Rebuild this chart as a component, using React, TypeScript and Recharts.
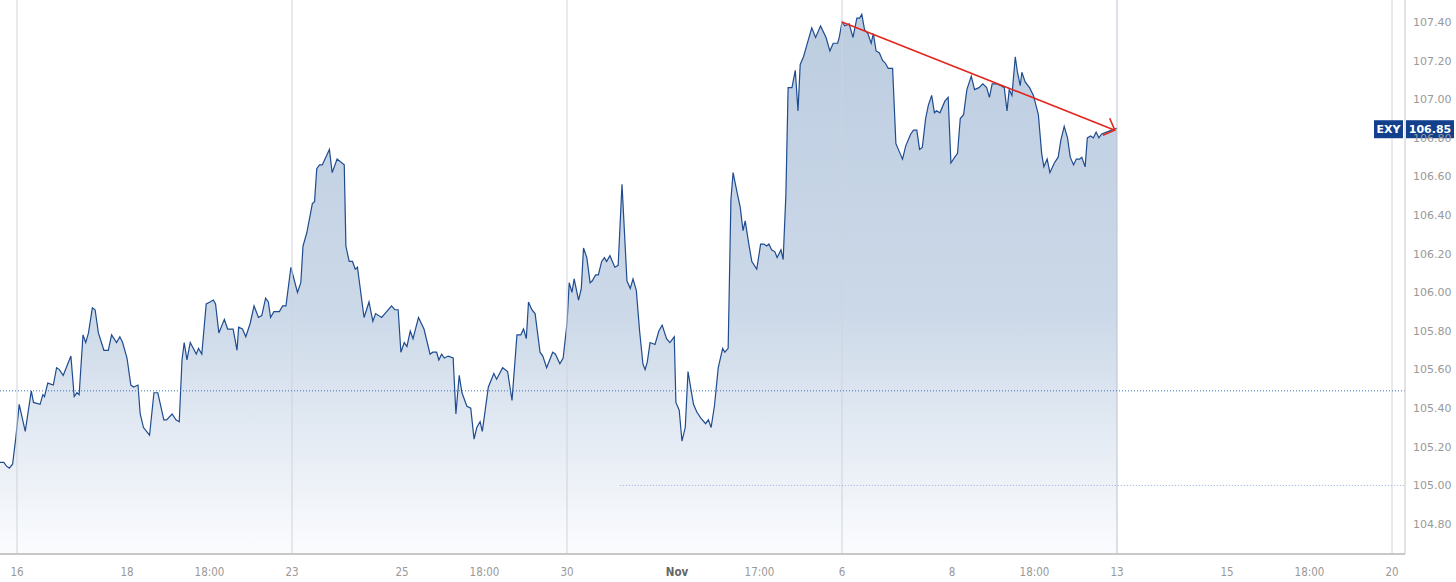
import React from 'react';
import { AreaChart, Area, XAxis, YAxis, ReferenceLine } from 'recharts';

// x is measured in trading days from Mon 16 Oct (weekends removed); y is the index level
const timesWeek1 = [
  -0.31, -0.24, -0.19, -0.14, -0.08, -0.02, 0.04, 0.15, 0.26, 0.3, 0.42, 0.47, 0.5, 0.56, 0.66, 0.72, 0.77, 0.84, 0.98, 1.04,
  1.09, 1.13, 1.2, 1.25, 1.3, 1.37, 1.42, 1.48, 1.58, 1.66, 1.72, 1.81, 1.87, 1.92, 2.0, 2.07, 2.12, 2.2, 2.24, 2.3,
  2.41, 2.49, 2.56, 2.67, 2.72, 2.82, 2.89, 2.95, 3.0, 3.04, 3.09, 3.15, 3.26, 3.3, 3.36, 3.44, 3.51, 3.57, 3.61, 3.67,
  3.77, 3.83, 3.93, 4.0, 4.03, 4.1, 4.16, 4.24, 4.31, 4.39, 4.45, 4.52, 4.57, 4.61, 4.67, 4.77, 4.83, 4.89,
];
const closesWeek1 = [
  105.12, 105.12, 105.1, 105.09, 105.11, 105.25, 105.42, 105.28, 105.49, 105.43, 105.42, 105.47, 105.46, 105.53, 105.52, 105.61, 105.6, 105.57, 105.67, 105.46,
  105.48, 105.47, 105.78, 105.74, 105.79, 105.92, 105.91, 105.79, 105.7, 105.7, 105.78, 105.74, 105.77, 105.74, 105.66, 105.52, 105.51, 105.52, 105.37, 105.3,
  105.26, 105.48, 105.48, 105.34, 105.34, 105.37, 105.34, 105.33, 105.65, 105.74, 105.65, 105.74, 105.68, 105.71, 105.68, 105.94, 105.95, 105.96, 105.94, 105.79,
  105.86, 105.81, 105.81, 105.7, 105.82, 105.81, 105.77, 105.84, 105.93, 105.87, 105.88, 105.97, 105.95, 105.87, 105.9, 105.9, 105.93, 105.93,
];

const timesWeek2 = [
  4.98, 5.1, 5.16, 5.2, 5.27, 5.37, 5.41, 5.45, 5.5, 5.55, 5.68, 5.73, 5.82, 5.95, 5.98, 6.04, 6.1, 6.15, 6.19, 6.31,
  6.4, 6.47, 6.52, 6.63, 6.81, 6.87, 6.93, 6.98, 7.04, 7.09, 7.15, 7.2, 7.3, 7.4, 7.51, 7.56, 7.63, 7.67, 7.72, 7.77,
  7.84, 7.93, 7.98, 8.04, 8.09, 8.18, 8.25, 8.31, 8.36, 8.42, 8.46, 8.57, 8.67, 8.72, 8.83, 8.92, 9.0, 9.09, 9.16, 9.21,
  9.26, 9.3, 9.36, 9.42, 9.51, 9.56, 9.63, 9.74, 9.79, 9.87,
];
const closesWeek2 = [
  106.13, 106.0, 106.05, 106.24, 106.31, 106.46, 106.47, 106.64, 106.66, 106.66, 106.74, 106.62, 106.69, 106.66, 106.24, 106.16, 106.16, 106.12, 106.13, 105.87,
  105.95, 105.85, 105.89, 105.87, 105.93, 105.91, 105.91, 105.69, 105.74, 105.72, 105.8, 105.76, 105.87, 105.81, 105.68, 105.69, 105.69, 105.65, 105.68, 105.66,
  105.67, 105.66, 105.37, 105.57, 105.48, 105.41, 105.4, 105.24, 105.3, 105.33, 105.28, 105.51, 105.58, 105.55, 105.61, 105.59, 105.44, 105.78, 105.78, 105.81,
  105.76, 105.95, 105.91, 105.89, 105.69, 105.67, 105.61, 105.69, 105.68, 105.63,
];

const timesWeek3 = [
  9.93, 10.0, 10.04, 10.09, 10.13, 10.21, 10.26, 10.3, 10.36, 10.42, 10.46, 10.52, 10.57, 10.63, 10.68, 10.72, 10.78, 10.87, 10.93, 11.0,
  11.09, 11.15, 11.2, 11.26, 11.32, 11.38, 11.42, 11.46, 11.51, 11.6, 11.67, 11.73, 11.81, 11.87, 11.95, 11.98, 12.04, 12.09, 12.15, 12.2,
  12.3, 12.36, 12.43, 12.52, 12.57, 12.62, 12.68, 12.75, 12.83, 12.87, 12.93, 12.98, 13.02, 13.09, 13.15, 13.2, 13.24, 13.3, 13.36, 13.45,
  13.52, 13.58, 13.63, 13.67, 13.72, 13.78, 13.82, 13.89, 13.93,
  13.98, 14.02, 14.09, 14.15, 14.2, 14.24, 14.3, 14.36, 14.45, 14.52, 14.61, 14.71, 14.78, 14.84, 14.92, 14.95,
];
const closesWeek3 = [
  105.66, 105.84, 106.05, 106.0, 106.07, 105.96, 106.02, 106.23, 106.18, 106.05, 106.06, 106.09, 106.09, 106.16, 106.18, 106.16, 106.19, 106.13, 106.14, 106.56,
  106.06, 106.02, 106.07, 106.01, 105.8, 105.63, 105.6, 105.64, 105.74, 105.73, 105.8, 105.83, 105.76, 105.74, 105.77, 105.43, 105.39, 105.23, 105.3, 105.59,
  105.42, 105.38, 105.35, 105.32, 105.34, 105.3, 105.41, 105.61, 105.71, 105.69, 105.71, 106.48, 106.62, 106.52, 106.44, 106.32, 106.37, 106.26, 106.16, 106.12,
  106.25, 106.25, 106.24, 106.25, 106.22, 106.21, 106.18, 106.22, 106.17,
  106.51, 107.06, 107.06, 107.15, 106.94, 107.18, 107.22, 107.28, 107.37, 107.32, 107.38, 107.32, 107.25, 107.29, 107.29, 107.32,
];

const timesWeek4 = [
  15.0, 15.05, 15.13, 15.2, 15.27, 15.32, 15.36, 15.41, 15.47, 15.53, 15.57, 15.62, 15.68, 15.74, 15.78, 15.84, 15.92, 15.98, 16.04, 16.1,
  16.16, 16.25, 16.3, 16.36, 16.41, 16.46, 16.52, 16.57, 16.63, 16.68, 16.72, 16.78, 16.87, 16.93, 16.98, 17.05, 17.1, 17.15, 17.21, 17.27,
  17.35, 17.41, 17.49, 17.56, 17.63, 17.68, 17.73, 17.81, 17.89, 17.95, 18.0, 18.04, 18.09, 18.15, 18.19, 18.24, 18.27, 18.33, 18.41, 18.48,
  18.57, 18.63, 18.67, 18.73, 18.78, 18.86, 18.93, 18.98, 19.04, 19.1, 19.15, 19.21, 19.26, 19.32, 19.36, 19.42, 19.46, 19.52, 19.57, 19.62,
  19.67, 19.72, 19.81, 19.9, 20.0,
];
const closesWeek4 = [
  107.4, 107.38, 107.39, 107.32, 107.42, 107.42, 107.44, 107.36, 107.34, 107.29, 107.34, 107.25, 107.24, 107.2, 107.19, 107.16, 107.16, 106.77, 106.73, 106.69,
  106.76, 106.82, 106.84, 106.84, 106.74, 106.75, 106.9, 106.97, 107.02, 106.93, 106.94, 106.93, 106.99, 107.01, 106.67, 106.7, 106.72, 106.9, 106.92, 107.05,
  107.12, 107.05, 107.06, 107.08, 107.06, 107.01, 107.08, 107.08, 107.07, 107.06, 106.94, 107.05, 107.02, 107.22, 107.14, 107.07, 107.14, 107.09, 107.06, 107.02,
  106.92, 106.72, 106.65, 106.69, 106.62, 106.67, 106.7, 106.79, 106.86, 106.8, 106.7, 106.66, 106.69, 106.69, 106.7, 106.65, 106.8, 106.81, 106.8, 106.83,
  106.8, 106.82, 106.83, 106.84, 106.85,
];

const times = [...timesWeek1, ...timesWeek2, ...timesWeek3, ...timesWeek4];
const closes = [...closesWeek1, ...closesWeek2, ...closesWeek3, ...closesWeek4];

const xTicks = [0, 2, 3.5, 5, 7, 8.5, 10, 12, 13.5, 15, 17, 18.5, 20, 22, 23.5, 25];
const xTickLabels = ['16', '18', '18:00', '23', '25', '18:00', '30', 'Nov', '17:00', '6', '8', '18:00', '13', '15', '18:00', '20'];
const monthLabels = ['Nov'];
const weekStarts = [0, 5, 10, 15, 20, 25];
const yTicks = [104.8, 105.0, 105.2, 105.4, 105.6, 105.8, 106.0, 106.2, 106.4, 106.6, 106.8, 107.0, 107.2, 107.4];

const xDomain: [number, number] = [-0.309, 25.236];
const yDomain: [number, number] = [104.645, 107.514];

const prevClose = 105.49;
const alertLevel = 105.0;
const alertFrom = 10.96;
const trendStart = { x: 15.0, y: 107.4 };
const trendEnd = { x: 19.96, y: 106.84 };
const symbol = 'EXY';
const lastPrice = 106.85;

const data = times.map((t, i) => ({ t, v: closes[i] }));

const axisFont = "'DejaVu Sans', Verdana, sans-serif";
const tagBlue = '#12408c';

const DateTick = (props: any) => {
  const { x, y, payload } = props;
  const label = xTickLabels[xTicks.indexOf(payload.value)] ?? '';
  const isMonth = monthLabels.includes(label);
  return (
    <text
      x={x}
      y={y}
      dy="0.71em"
      textAnchor="middle"
      fontSize={11.5}
      fontFamily="'DejaVu Sans Condensed', 'DejaVu Sans', sans-serif"
      fontWeight={isMonth ? 'bold' : 'normal'}
      fill={isMonth ? '#666' : '#999'}
    >
      {label}
    </text>
  );
};

// red trend line with an open arrow head at the end
const TrendArrow = (props: any) => {
  const { x1, y1, x2, y2 } = props;
  const a = Math.atan2(y2 - y1, x2 - x1);
  const len = 13;
  const ax = x2 - len * Math.cos(a - Math.PI / 4);
  const ay = y2 - len * Math.sin(a - Math.PI / 4);
  const bx = x2 - len * Math.cos(a + Math.PI / 4);
  const by = y2 - len * Math.sin(a + Math.PI / 4);
  return (
    <g>
      <line x1={x1} y1={y1} x2={x2} y2={y2} stroke="#e3261c" strokeWidth={1.6} />
      <polyline points={`${ax},${ay} ${x2},${y2} ${bx},${by}`} fill="none" stroke="#e3261c" strokeWidth={1.6} />
    </g>
  );
};

// symbol + last price tags on the right edge of the plot
const PriceTag = (props: any) => {
  const { x1, x2, y1 } = props;
  const right = Math.max(x1, x2);
  const h = 18;
  return (
    <g>
      <rect x={right - 31} y={y1 - h / 2 + 1} width={29} height={h} fill={tagBlue} />
      <text x={right - 16.5} y={y1 + 1} dy="0.36em" textAnchor="middle" fill="#fff" fontSize={11} fontWeight="bold" fontFamily={axisFont}>
        {symbol}
      </text>
      <rect x={right + 1} y={y1 - h / 2 + 1} width={48} height={h} fill={tagBlue} />
      <text x={right + 25} y={y1 + 1} dy="0.36em" textAnchor="middle" fill="#fff" fontSize={11} fontWeight="bold" fontFamily={axisFont}>
        {lastPrice.toFixed(2)}
      </text>
    </g>
  );
};

export default function App() {
  return (
    <div style={{ position: 'absolute', left: 0, top: 0, width: 1456, height: 582, background: '#fff' }}>
      <AreaChart width={1456} height={582} data={data} margin={{ top: 0, right: 0, bottom: 0, left: 0 }}>
        <defs>
          <linearGradient id="exyFill" x1="0" y1="0" x2="0" y2="1">
            <stop offset="0%" stopColor="#b7c9de" />
            <stop offset="55%" stopColor="#c7d5e6" />
            <stop offset="100%" stopColor="#fbfcfe" />
          </linearGradient>
        </defs>
        {weekStarts.map((w) => (
          <ReferenceLine key={w} x={w} stroke={w === 20 ? '#b9c1cf' : '#cfd3d9'} strokeWidth={1} />
        ))}
        <XAxis
          dataKey="t"
          type="number"
          domain={xDomain}
          allowDataOverflow
          ticks={xTicks}
          interval={0}
          tick={<DateTick />}
          tickLine={false}
          tickSize={6}
          tickMargin={8}
          axisLine={{ stroke: '#c8c8c8', strokeWidth: 2 }}
          height={28}
        />
        <YAxis
          orientation="right"
          type="number"
          domain={yDomain}
          allowDataOverflow
          ticks={yTicks}
          interval={0}
          tickFormatter={(v: number) => v.toFixed(2)}
          tick={{ fill: '#999', fontSize: 11, fontFamily: axisFont }}
          tickLine={false}
          axisLine={{ stroke: '#c8c8c8' }}
          width={51}
        />
        <Area
          type="linear"
          dataKey="v"
          stroke="#1f4c8f"
          strokeWidth={1.2}
          fill="url(#exyFill)"
          fillOpacity={0.92}
          dot={false}
          activeDot={false}
          isAnimationActive={false}
        />
        <ReferenceLine y={prevClose} stroke="#3b72bb" strokeDasharray="1 2" strokeWidth={1} />
        <ReferenceLine
          segment={[
            { x: alertFrom, y: alertLevel },
            { x: xDomain[1], y: alertLevel },
          ]}
          stroke="#8fb1de"
          strokeDasharray="1 2"
          strokeWidth={1}
        />
        <ReferenceLine segment={[trendStart, trendEnd]} shape={TrendArrow} />
        <ReferenceLine y={lastPrice} shape={PriceTag} />
      </AreaChart>
    </div>
  );
}
